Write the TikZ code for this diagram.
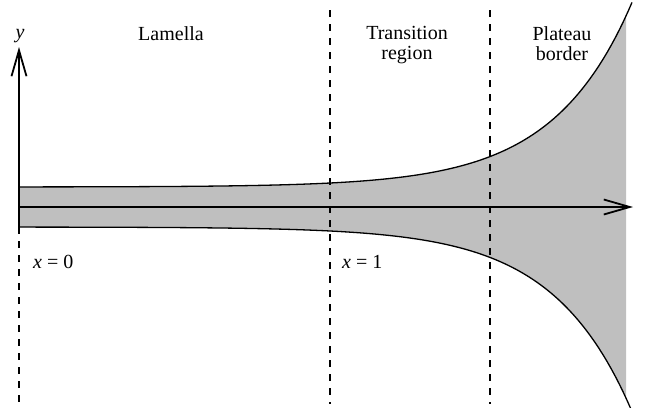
\documentclass[tikz,border=0pt]{standalone}
\usepackage{fontspec}
\setmainfont{Liberation Serif}
\usetikzlibrary{arrows.meta}
\begin{document}
\begin{tikzpicture}[x=1pt,y=-1pt,
  lbl/.style={font=\fontsize{20}{20}\selectfont, align=center, inner sep=0pt},
  axisline/.style={line width=1.5pt, -{Straight Barb[length=26pt,width=15pt,line width=1.8pt]}},
  edgeline/.style={line width=1.3pt},
  divider/.style={line width=1.4pt, dash pattern=on 7pt off 7pt},
  film/.style={fill=black!25}]
\useasboundingbox (0,0) rectangle (647,407);
% film
\fill[film] plot[domain=19:626, samples=120] (\x, {187-0.077*exp(0.0127*(\x-19))})
  -- plot[domain=626:19, samples=120] (\x, {227+0.077*exp(0.0127*(\x-19))}) -- cycle;
% dividers
\coordinate (d0t) at (19,227);
\coordinate (d0b) at (19,407);
\coordinate (d1t) at (330,10);
\coordinate (d1b) at (330,404);
\coordinate (d2t) at (490,10);
\coordinate (d2b) at (490,404);
\draw[divider] (d0t) -- (d0b);
\draw[divider] (d1t) -- (d1b);
\draw[divider] (d2t) -- (d2b);
% surfaces
\begin{scope}
\clip (0,0) rectangle (647,407);
\draw[edgeline] plot[domain=19:632, samples=150] (\x, {187-0.077*exp(0.0127*(\x-19))});
\draw[edgeline] plot[domain=19:632, samples=150] (\x, {227+0.077*exp(0.0127*(\x-19))});
\end{scope}
% axes
\coordinate (ybase) at (19,227);
\coordinate (ytip) at (19,47);
\coordinate (xbase) at (19,207);
\coordinate (xtip) at (633,207);
\draw[axisline] (ybase) -- (ytip);
\draw[axisline] (xbase) -- (xtip);
% labels
\node[lbl, anchor=base] (ylab) at (20,38) {\itshape y};
\node[lbl, anchor=base] (lam) at (171,40) {Lamella};
\node[lbl, anchor=north] (trans) at (407,26) {Transition\\region};
\node[lbl, anchor=north] (plat) at (562,26) {Plateau\\border};
\node[lbl, anchor=base west] (x0) at (33,268) {{\itshape x} = 0};
\node[lbl, anchor=base west] (x1) at (342,268) {{\itshape x} = 1};
\end{tikzpicture}
\end{document}
